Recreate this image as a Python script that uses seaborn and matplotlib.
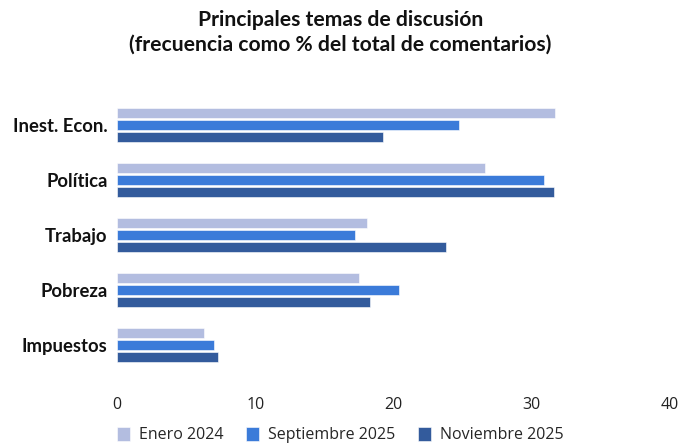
import pandas as pd
import matplotlib.pyplot as plt
import seaborn as sns

# data
temas = ["Inest. Econ.", "Política", "Trabajo", "Pobreza", "Impuestos"]
periodos = ["Enero 2024", "Septiembre 2025", "Noviembre 2025"]
enero_2024 = [31.7, 26.6, 18.1, 17.5, 6.3]
sept_2025 = [24.7, 30.9, 17.2, 20.4, 7.0]
nov_2025 = [19.2, 31.6, 23.8, 18.3, 7.3]
colores = ["#B3BDE0", "#3B7BD9", "#335B9C"]

df = pd.DataFrame({"tema": temas, periodos[0]: enero_2024,
                   periodos[1]: sept_2025, periodos[2]: nov_2025})
long_df = df.melt(id_vars="tema", var_name="periodo", value_name="pct")

sns.set_style("white")
plt.rcParams["font.family"] = ["Open Sans", "DejaVu Sans"]

fig = plt.figure(figsize=(6.81, 4.43), dpi=100)
ax = fig.add_axes([0.172, 0.131, 0.812, 0.649])

sns.barplot(data=long_df, x="pct", y="tema", hue="periodo", hue_order=periodos,
            palette=colores, saturation=1, orient="h", width=0.66, gap=0.2, ax=ax,
            edgecolor="white", linewidth=0.4)

ax.set_xlim(0, 40)
ax.set_ylim(4.73, -0.5)
ax.set_xticks([0, 10, 20, 30, 40])
ax.set_xlabel("")
ax.set_ylabel("")
sns.despine(ax=ax, left=True, bottom=True)
ax.tick_params(axis="x", length=0, pad=9, labelsize=11.5, colors="#222222")
ax.tick_params(axis="y", length=0, pad=7)
for lbl in ax.get_yticklabels():
    lbl.set_fontfamily(["Lato", "DejaVu Sans"])
    lbl.set_fontweight("bold")
    lbl.set_fontsize(13.3)
    lbl.set_color("#111111")

fig.suptitle("Principales temas de discusión\n(frecuencia como % del total de comentarios)",
             x=0.5, y=0.978, fontsize=15.2, fontweight="bold",
             fontfamily=["Lato", "DejaVu Sans"], color="#111111", linespacing=1.3)

handles, labels = ax.get_legend_handles_labels()
ax.legend_.remove()
fig.legend(handles, labels, loc="center", bbox_to_anchor=(0.5, 0.018), ncol=3,
           frameon=False, fontsize=11.5, handlelength=0.8, handleheight=1.0,
           columnspacing=1.4, handletextpad=0.6)

fig.savefig("out.png", dpi=100)
